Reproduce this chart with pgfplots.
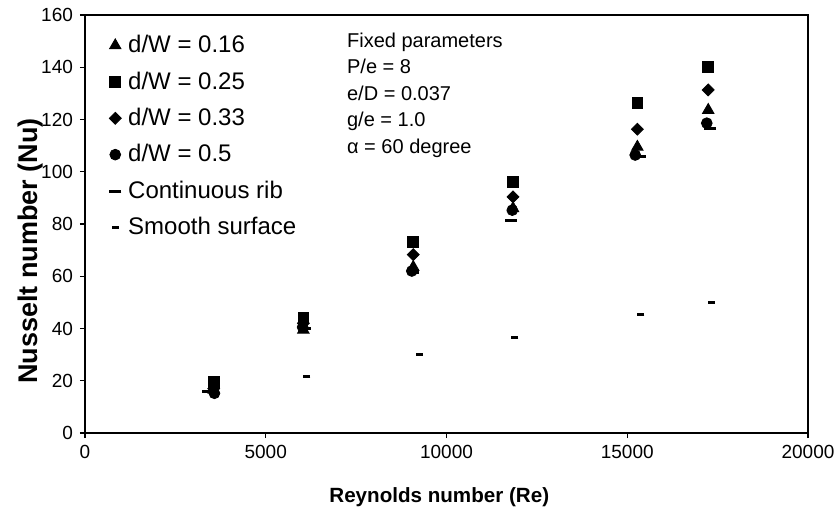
\documentclass[border=0pt]{standalone}
\usepackage{fontspec}
\setmainfont{Liberation Sans}
\usepackage{pgfplots}
\pgfplotsset{compat=1.18}

\begin{document}
\begin{tikzpicture}
% page frame: 834 x 515 px at 0.5pt per px, axis box from (0,0)
\useasboundingbox (-42.5pt,-41pt) rectangle (374.5pt,216.5pt);
\begin{axis}[
  width=361.5pt, height=209pt, scale only axis,
  xmin=0, xmax=20000, ymin=0, ymax=160,
  xtick={0,5000,10000,15000,20000}, ytick={0,20,40,60,80,100,120,140,160},
  xtick pos=left, ytick pos=left, tick align=outside,
  major tick length=2.5pt,
  axis line style={line width=0.7pt}, tick style={line width=0.7pt, black},
  tick label style={font=\fontsize{9.5}{11}\selectfont},
  /pgf/number format/assume math mode=true,
  /pgf/number format/1000 sep={},
  scaled x ticks=false,
  xlabel={Reynolds number (Re)},
  ylabel={Nusselt number (Nu)},
  xlabel style={font=\fontsize{10.3}{12}\selectfont\bfseries,
    at={(axis description cs:0.49,-0.153)}, anchor=center},
  ylabel style={font=\fontsize{13.5}{15}\selectfont\bfseries,
    at={(axis description cs:-0.076,0.435)}, anchor=center},
  only marks,
  legend image code/.code={\draw[#1] plot coordinates {(0cm,0cm)}; \path (0.15cm,0cm);},
  legend style={draw=none, fill=none, at={(axis description cs:0.033,0.962)},
    anchor=north west, font=\fontsize{12}{14}\selectfont,
    row sep=4pt, inner sep=0pt},
  legend cell align=left,
]
% d/W = 0.16
\addplot[mark=triangle*, mark size=3.3pt, mark options={fill=black, draw=black}]
  coordinates {(3560,16.5) (6040,39.5) (9080,63.5) (11840,86) (15280,109.5) (17240,123.6)};
\addlegendentry{d/W = 0.16}
% d/W = 0.25
\addplot[mark=square*, mark size=2.7pt, mark options={fill=black, draw=black}]
  coordinates {(3560,19.5) (6040,44) (9080,73) (11840,96) (15280,126.3) (17240,140)};
\addlegendentry{d/W = 0.25}
% d/W = 0.33
\addplot[mark=square*, mark size=2.1pt, mark options={fill=black, draw=black, rotate=45}]
  coordinates {(3560,17) (6040,42) (9080,68.3) (11840,90.4) (15280,116.3) (17240,131.3)};
\addlegendentry{d/W = 0.33}
% d/W = 0.5
\addplot[mark=*, mark size=2.7pt, mark options={fill=black, draw=black}]
  coordinates {(3580,15.2) (6020,40.5) (9040,62) (11820,85.3) (15220,106.4) (17200,118.6)};
\addlegendentry{d/W = 0.5}
% continuous rib
\addplot[mark=-, mark size=3pt, mark options={draw=black, line width=1.5pt}]
  coordinates {(3400,16) (6080,40) (9060,61.5) (11780,81.5) (15350,106) (17290,116.7)};
\addlegendentry{Continuous rib}
% smooth surface
\addplot[mark=-, mark size=1.75pt, mark options={draw=black, line width=1.5pt}]
  coordinates {(3600,15.5) (6140,21.5) (9240,29.9) (11890,36.7) (15380,45.5) (17320,49.8)};
\addlegendentry{Smooth surface}

\node[anchor=north west, align=left, inner sep=0pt,
      font=\fontsize{10}{13.2}\selectfont]
  at (rel axis cs:0.362,0.958)
  {Fixed parameters\\P/e = 8\\e/D = 0.037\\g/e = 1.0\\α = 60 degree};
\end{axis}
\end{tikzpicture}
\end{document}
